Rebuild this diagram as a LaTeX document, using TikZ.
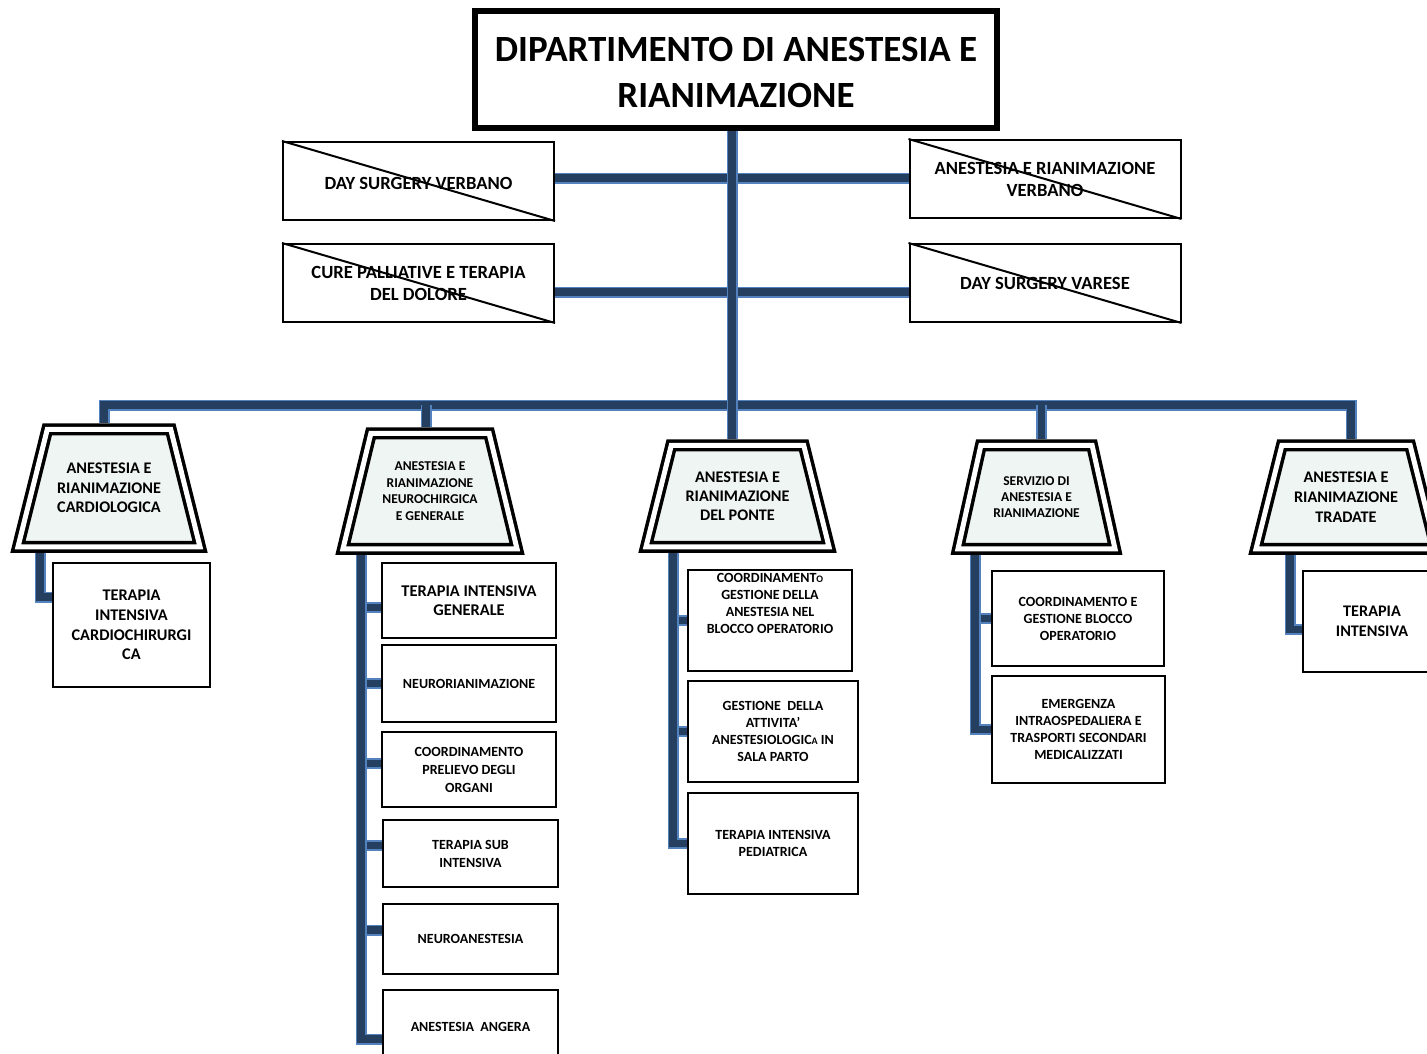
\documentclass[tikz,border=0pt]{standalone}
\usepackage{fontspec}
\setmainfont{Carlito}
\usepackage{tikz}
\usetikzlibrary{positioning}

\definecolor{bardark}{RGB}{36,63,96}
\definecolor{barlight}{RGB}{84,130,190}
\definecolor{trapfill}{RGB}{239,245,243}

\newcommand{\boxfont}[2]{\fontsize{#1}{#2}\selectfont\bfseries}

\begin{document}
\begin{tikzpicture}[x=1pt, y=-1pt,
		bar/.style={draw=barlight, line width=1.6pt, double=bardark, double distance=7.8pt},
		titlebox/.style={draw, rectangle, line width=6pt, align=center, inner sep=0pt},
		crossbox/.style={draw, rectangle, line width=2pt, minimum width=271pt, minimum height=78pt, align=center, inner sep=0pt, font=\boxfont{18.6}{22}},
		trapline/.style={draw=black, fill=trapfill, line width=3.5pt, double=white, double distance=5pt},
		% #1 = how far the top corners step in
		unit/.style={rectangle, inner sep=0pt, align=center,
			path picture={\draw[trapline]
				([xshift=#1pt+4.9pt, yshift=-6.25pt]path picture bounding box.north west) --
				([xshift=-#1pt-4.9pt, yshift=-6.25pt]path picture bounding box.north east) --
				([xshift=-8pt, yshift=6.25pt]path picture bounding box.south east) --
				([xshift=8pt, yshift=6.25pt]path picture bounding box.south west) -- cycle;}},
		sub/.style={draw, rectangle, line width=2.3pt, align=center, inner sep=0pt}]
		\useasboundingbox (0,0) rectangle (1427,1054);
		\clip (0,0) rectangle (1427,1054);

		% Nodes
		\node (dipartimento) [titlebox, minimum width=522pt, minimum height=117pt, font=\boxfont{37}{46}] at (736,69.5) {\rule{0pt}{31pt}DIPARTIMENTO DI ANESTESIA E\\RIANIMAZIONE};
		\node (dsverbano) [crossbox] at (418.5,181) {\rule{0pt}{17pt}DAY SURGERY VERBANO};
		\node (cure) [crossbox] at (418.5,283) {CURE PALLIATIVE E TERAPIA\\DEL DOLORE};
		\node (arverbano) [crossbox] at (1045,179) {ANESTESIA E RIANIMAZIONE\\VERBANO};
		\node (dsvarese) [crossbox] at (1045,283) {DAY SURGERY VARESE};

		% the five units
		\node (cardio) [unit=32.4, minimum width=198pt, minimum height=130pt, font=\boxfont{16.2}{19.5}] at (109,488) {ANESTESIA E\\RIANIMAZIONE\\CARDIOLOGICA};
		\node (neuro) [unit=31, minimum width=190pt, minimum height=128pt, font=\boxfont{13.5}{16.5}] at (430,491) {ANESTESIA E\\RIANIMAZIONE\\NEUROCHIRGICA\\E GENERALE};
		\node (ponte) [unit=28.4, minimum width=199pt, minimum height=114pt, font=\boxfont{16.2}{19}] at (737.5,496) {ANESTESIA E\\RIANIMAZIONE\\DEL PONTE};
		\node (servizio) [unit=26, minimum width=173pt, minimum height=116pt, font=\boxfont{13.5}{16}] at (1036.5,497) {SERVIZIO DI\\ANESTESIA E\\RIANIMAZIONE};
		\node (tradate) [unit=29, minimum width=196pt, minimum height=116pt, font=\boxfont{16.2}{20}] at (1346,497) {ANESTESIA E\\RIANIMAZIONE\\TRADATE};

		% sub units
		\node (ticardio) [sub, minimum width=157pt, minimum height=124pt, font=\boxfont{16.3}{19.7}] at (131.5,625) {TERAPIA\\INTENSIVA\\CARDIOCHIRURGI\\CA};

		\node (tigen) [sub, minimum width=174pt, minimum height=75pt, font=\boxfont{16.4}{19}] at (469,600.5) {TERAPIA INTENSIVA\\GENERALE};
		\node (neurorian) [sub, minimum width=174pt, minimum height=77pt, font=\boxfont{14}{18}] at (469,683.5) {NEURORIANIMAZIONE};
		\node (prelievo) [sub, minimum width=174pt, minimum height=75pt, font=\boxfont{14}{18}] at (469,769.5) {COORDINAMENTO\\PRELIEVO DEGLI\\ORGANI};
		\node (subint) [sub, minimum width=175pt, minimum height=67pt, font=\boxfont{14}{18}] at (470.5,853.5) {TERAPIA SUB\\INTENSIVA};
		\node (neuroan) [sub, minimum width=175pt, minimum height=70pt, font=\boxfont{14}{18}] at (470.5,939) {NEUROANESTESIA};
		\node (angera) [sub, minimum width=175pt, minimum height=74pt, font=\boxfont{14}{18}] at (470.5,1027) {ANESTESIA\ \ ANGERA};

		\node (bloccop) [sub, minimum width=164pt, minimum height=101pt, font=\boxfont{14}{17}] at (770,620.5) {COORDINAMENT{\fontsize{10}{17}\selectfont O}\\GESTIONE DELLA\\ANESTESIA NEL\\BLOCCO OPERATORIO\\\mbox{}\\\mbox{}};
		\node (salaparto) [sub, minimum width=170pt, minimum height=101pt, font=\boxfont{14}{17}] at (773,731.5) {GESTIONE\ \ DELLA\\ATTIVITA’\\ANESTESIOLOGIC{\fontsize{10}{17}\selectfont A} IN\\SALA PARTO};
		\node (tipediatrica) [sub, minimum width=170pt, minimum height=101pt, font=\boxfont{14}{17}] at (773,843.5) {TERAPIA INTENSIVA\\PEDIATRICA};

		\node (coordblocco) [sub, minimum width=172pt, minimum height=95pt, font=\boxfont{14}{17}] at (1078,618.5) {COORDINAMENTO E\\GESTIONE BLOCCO\\OPERATORIO};
		\node (emergenza) [sub, minimum width=173pt, minimum height=107pt, font=\boxfont{14}{17}] at (1078.5,729.5) {EMERGENZA\\INTRAOSPEDALIERA E\\TRASPORTI SECONDARI\\MEDICALIZZATI};

		\node (titradate) [sub, minimum width=138pt, minimum height=101pt, font=\boxfont{16.2}{20}] at (1372,621.5) {TERAPIA\\INTENSIVA};

		% crossed out boxes
		\foreach \n in {dsverbano,cure,arverbano,dsvarese}
			\draw[line width=2pt] (\n.north west) -- (\n.south east);

		% Connectors
		\coordinate (bary) at (0,405);
		\draw[bar] ([yshift=3pt]dsverbano.east) -- ([yshift=1pt]arverbano.west);
		\draw[bar] ([yshift=-9pt]cure.east) -- ([yshift=-9pt]dsvarese.west);
		\draw[bar] ([xshift=-5pt]cardio.north) -- ([xshift=-5pt]cardio.north |- bary) -- ([xshift=5pt]tradate.north |- bary) -- ([xshift=5pt]tradate.north);
		\foreach \u/\dx in {neuro/-4, servizio/5}
			\draw[bar] ([xshift=\dx pt]\u.north |- bary) -- ([xshift=\dx pt]\u.north);
		\draw[bar] ([xshift=-4pt]dipartimento.south) -- ([xshift=-4pt]dipartimento.south |- ponte.north);

		% branches to the sub units
		\draw[bar] ([xshift=-69pt]cardio.south) |- ([yshift=28pt]ticardio.west);
		\foreach \b/\dy in {tigen/-7, neurorian/0, prelievo/6, subint/8, neuroan/9, angera/-12}
			\draw[bar] ([xshift=-69pt]neuro.south) |- ([yshift=\dy pt]\b.west);
		\foreach \b in {bloccop,salaparto,tipediatrica}
			\draw[bar] ([xshift=-64.5pt]ponte.south) |- (\b.west);
		\foreach \b in {coordblocco,emergenza}
			\draw[bar] ([xshift=-61.5pt]servizio.south) |- (\b.west);
		\draw[bar] ([xshift=-56pt]tradate.south) |- ([yshift=-8pt]titradate.west);
	\end{tikzpicture}
\end{document}
